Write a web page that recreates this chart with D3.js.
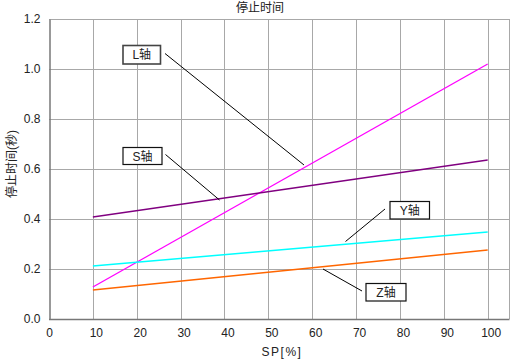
<!DOCTYPE html>
<html><head><meta charset="utf-8">
<script src="https://cdn.jsdelivr.net/npm/d3@7"></script>
<style>body{margin:0;background:#fff}svg{display:block}text{font-family:"Liberation Sans","Noto Sans CJK JP",sans-serif;font-size:12px;fill:#222}</style>
</head><body><svg id="c" width="510" height="360"></svg>
<script>
const xTicks = [0,10,20,30,40,50,60,70,80,90,100];
const yTicks = [0.0,0.2,0.4,0.6,0.8,1.0,1.2];
const spValues = [10, 100];
const seriesNames = ["L轴","S轴","Y轴","Z轴"];
const seriesColors = ["#ff00ff","#800080","#00ffff","#ff6600"];
const lValues = [0.128, 1.02];
const sValues = [0.408, 0.636];
const yValues = [0.212, 0.348];
const zValues = [0.116, 0.276];
const title = "停止时间";
const xTitle = "SP[%]";
const yTitle = "停止时间(秒)";

const svg = d3.select("#c");
const L = 49, R = 509, T = 19, B = 319;
const x = d3.scaleLinear().domain([0,105]).range([L, L + 438.7*105/100]);
const y = d3.scaleLinear().domain([0,1.2]).range([B,T]);
const px2x = p => x.invert(p), px2y = p => y.invert(p);

// grid
const g = svg.append("g");
g.selectAll("line.v").data(xTicks.slice(1)).join("line")
 .attr("x1",d=>Math.round(x(d))+0.5).attr("x2",d=>Math.round(x(d))+0.5).attr("y1",T).attr("y2",B)
 .attr("stroke","#a8a8a8").attr("stroke-width",1);
g.selectAll("line.h").data(yTicks.slice(1)).join("line")
 .attr("y1",d=>Math.round(y(d))+0.5).attr("y2",d=>Math.round(y(d))+0.5).attr("x1",L).attr("x2",R)
 .attr("stroke","#a8a8a8").attr("stroke-width",1);
g.append("line").attr("x1",R+0.5).attr("x2",R+0.5).attr("y1",T).attr("y2",B).attr("stroke","#a8a8a8");

// axes
const xAxis = d3.axisBottom(x).tickValues(xTicks).tickSize(0).tickPadding(9).tickFormat(d3.format("d"));
const yAxis = d3.axisLeft(y).tickValues(yTicks).tickSize(0).tickPadding(9).tickFormat(d3.format(".1f"));
const gx = svg.append("g").attr("transform",`translate(0,${B+0.5})`).call(xAxis);
const gy = svg.append("g").attr("transform",`translate(${L+0.5},0)`).call(yAxis);
[gx,gy].forEach(a=>{a.select(".domain").attr("stroke","#777").attr("stroke-width",1.5);
 a.selectAll("text").style("font-family",'"Liberation Sans",sans-serif').style("font-size","12px").attr("fill","#222");});
gx.selectAll(".tick text").attr("dx", d => d===0?0:3);
gx.select(".domain").attr("d",`M${L},0H${R+0.5}`);

// series
const data = [lValues, sValues, yValues, zValues];
const line = d3.line().x((d,i)=>x(spValues[i])).y(d=>y(d));
svg.selectAll("path.s").data(data).join("path")
 .attr("d",line).attr("fill","none").attr("stroke",(d,i)=>seriesColors[i]).attr("stroke-width",1.3);

// annotations (positions converted to data space)
const ann = [
 {name:seriesNames[0], box:[px2x(123),px2y(45.5),px2x(160.5),px2y(64)], lead:[px2x(165),px2y(53.5),px2x(304),px2y(165)], bw:1.6, bc:"#444"},
 {name:seriesNames[1], box:[px2x(123),px2y(147.5),px2x(162),px2y(164.5)], lead:[px2x(165.5),px2y(154.5),px2x(219.5),px2y(200)], bw:1.2, bc:"#111"},
 {name:seriesNames[2], box:[px2x(390),px2y(201.5),px2x(429.5),px2y(219)], lead:[px2x(385),px2y(209),px2x(345.5),px2y(241.5)], bw:1.2, bc:"#111"},
 {name:seriesNames[3], box:[px2x(366),px2y(283.5),px2x(406),px2y(301)], lead:[px2x(362),px2y(291),px2x(323),px2y(269)], bw:1.2, bc:"#111"}
];
const ag = svg.append("g");
ann.forEach(a=>{
 ag.append("line").attr("x1",x(a.lead[0])).attr("y1",y(a.lead[1])).attr("x2",x(a.lead[2])).attr("y2",y(a.lead[3]))
  .attr("stroke","#000").attr("stroke-width",1);
 const x0=x(a.box[0]), y0=y(a.box[1]), x1=x(a.box[2]), y1=y(a.box[3]);
 ag.append("rect").attr("x",x0).attr("y",y0).attr("width",x1-x0).attr("height",y1-y0)
  .attr("fill","#fff").attr("stroke",a.bc).attr("stroke-width",a.bw);
 ag.append("text").attr("x",(x0+x1)/2).attr("y",(y0+y1)/2+4.5).attr("text-anchor","middle").text(a.name);
});

// titles
svg.append("text").attr("x",260).attr("y",12).attr("text-anchor","middle").text(title);
svg.append("text").attr("x",282).attr("y",356).attr("text-anchor","middle").attr("letter-spacing","1.5").text(xTitle);
svg.append("text").attr("transform","translate(16,164) rotate(-90)").attr("text-anchor","middle").text(yTitle);
</script></body></html>
